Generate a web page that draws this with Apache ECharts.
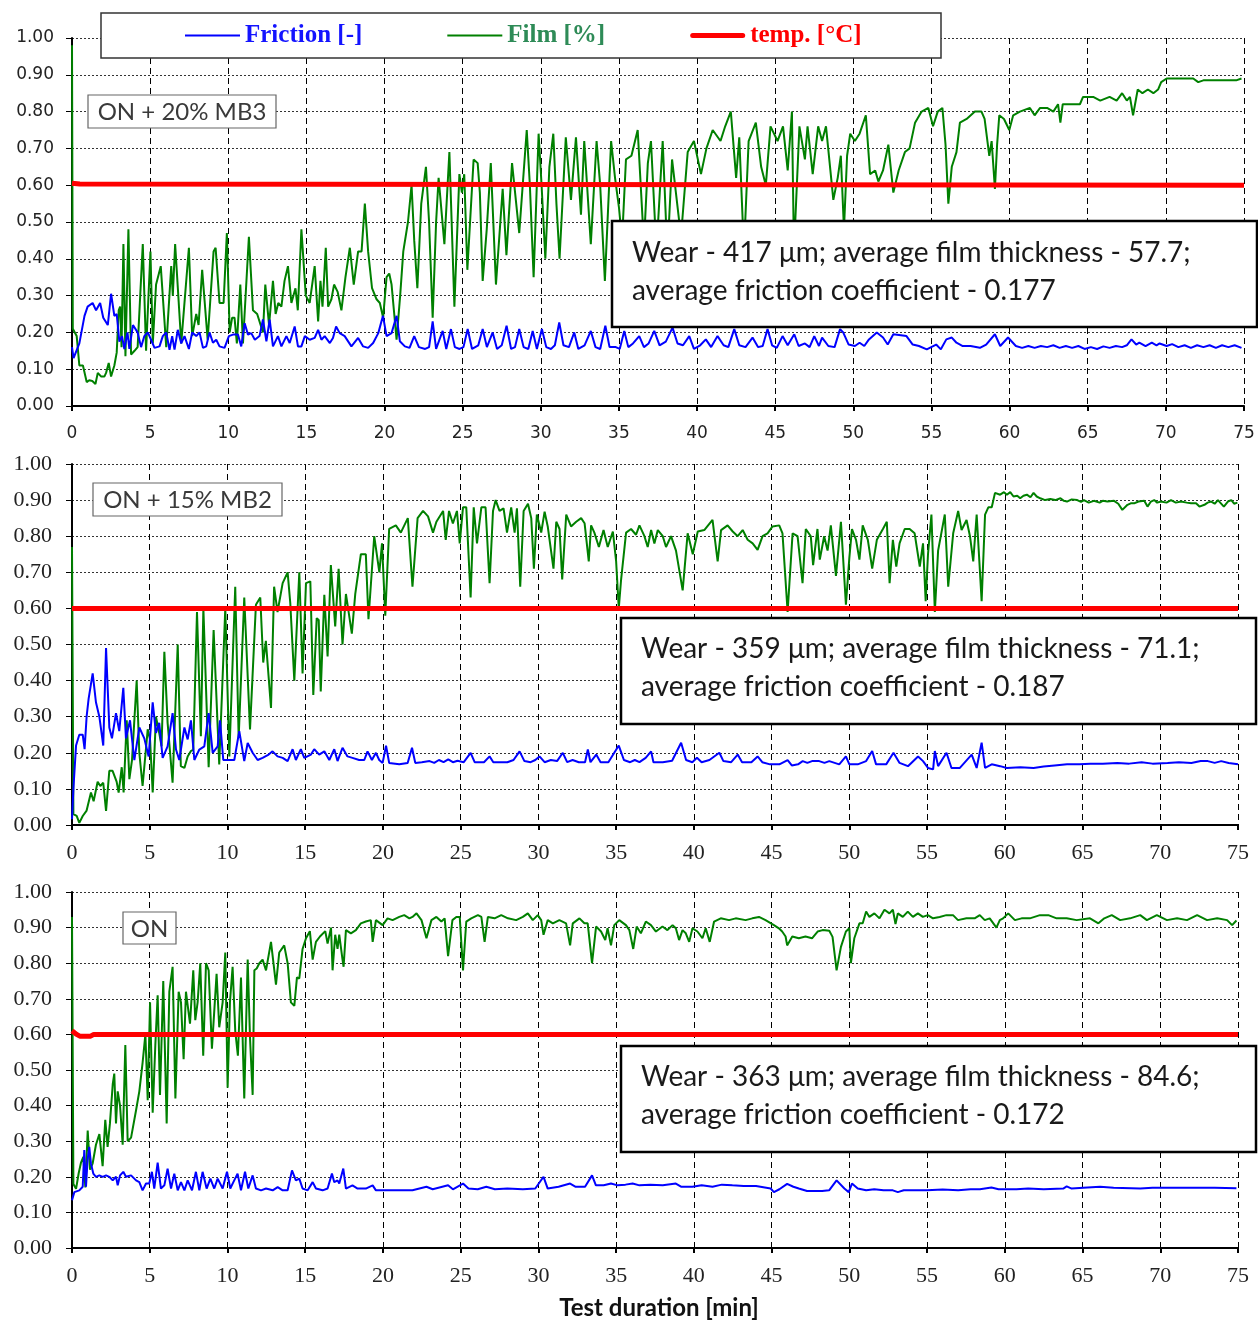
<!DOCTYPE html>
<html><head><meta charset="utf-8">
<script src="https://cdn.jsdelivr.net/npm/echarts@6/dist/echarts.min.js"></script>
<style>html,body{margin:0;padding:0;background:#fff}#c{width:1258px;height:1322px}</style>
</head><body><div id="c"></div>
<script>
const seriesNames = ['Friction [-]', 'Film [%]', 'temp. [°C]'];
const panelLabels = ['ON + 20% MB3', 'ON + 15% MB2', 'ON'];
const notes = [
  ['Wear - 417 μm; average film thickness - 57.7;', 'average friction coefficient - 0.177'],
  ['Wear - 359 μm; average film thickness - 71.1;', 'average friction coefficient - 0.187'],
  ['Wear - 363 μm; average film thickness - 84.6;', 'average friction coefficient - 0.172']
];
const xTitle = 'Test duration [min]';

// ---------- Panel 1: ON + 20% MB3 ----------
const film1 = [[0,0.98],[0.05,0.21],[0.3,0.19],[0.47,0.11],[0.7,0.11],[0.94,0.065],[1.1,0.07],[1.3,0.068],[1.5,0.06],[1.65,0.09],[1.87,0.08],[2.07,0.08],[2.18,0.09],[2.35,0.117],[2.5,0.08],[2.71,0.11],[2.86,0.145],[2.99,0.26],[3.08,0.27],[3.17,0.16],[3.29,0.44],[3.42,0.135],[3.61,0.48],[3.78,0.14],[4.0,0.15],[4.2,0.16],[4.53,0.44],[4.74,0.15],[5.02,0.42],[5.17,0.17],[5.38,0.33],[5.5,0.33],[5.68,0.38],[6.03,0.16],[6.35,0.38],[6.45,0.3],[6.6,0.44],[6.99,0.17],[7.48,0.43],[7.69,0.19],[7.95,0.25],[8.1,0.22],[8.33,0.37],[8.68,0.18],[9.06,0.42],[9.19,0.43],[9.44,0.28],[9.7,0.28],[9.91,0.47],[10.09,0.2],[10.25,0.24],[10.4,0.24],[10.55,0.17],[10.77,0.33],[10.94,0.17],[11.32,0.46],[11.58,0.26],[11.85,0.25],[12.22,0.2],[12.37,0.33],[12.61,0.22],[12.86,0.34],[13.03,0.25],[13.2,0.28],[13.4,0.27],[13.6,0.34],[13.82,0.38],[14.04,0.28],[14.3,0.32],[14.45,0.26],[14.68,0.48],[14.96,0.3],[15.21,0.28],[15.53,0.38],[15.75,0.23],[15.9,0.34],[16.03,0.27],[16.24,0.43],[16.39,0.27],[16.6,0.29],[16.77,0.33],[17.0,0.31],[17.24,0.26],[17.5,0.35],[17.78,0.43],[18.03,0.33],[18.31,0.42],[18.53,0.42],[18.74,0.55],[18.95,0.42],[19.2,0.32],[19.49,0.29],[19.7,0.28],[19.91,0.24],[20.13,0.35],[20.3,0.36],[20.45,0.33],[20.77,0.18],[21.0,0.3],[21.2,0.42],[21.5,0.5],[21.73,0.6],[21.9,0.45],[22.1,0.32],[22.35,0.55],[22.65,0.65],[22.85,0.5],[23.08,0.24],[23.3,0.5],[23.46,0.62],[23.83,0.44],[24.15,0.69],[24.47,0.27],[24.79,0.63],[24.95,0.58],[25.1,0.63],[25.3,0.37],[25.7,0.67],[25.96,0.66],[26.1,0.58],[26.28,0.34],[26.54,0.48],[26.8,0.66],[27.13,0.33],[27.56,0.59],[27.8,0.41],[28.16,0.66],[28.62,0.47],[29.1,0.75],[29.3,0.6],[29.54,0.35],[29.86,0.74],[30.05,0.6],[30.29,0.4],[30.55,0.65],[30.8,0.74],[31.0,0.55],[31.2,0.4],[31.6,0.73],[31.93,0.56],[32.25,0.73],[32.57,0.52],[32.78,0.72],[33.2,0.44],[33.57,0.72],[33.8,0.6],[34.1,0.34],[34.5,0.72],[34.75,0.62],[35.0,0.54],[35.2,0.45],[35.45,0.67],[35.8,0.68],[36.2,0.75],[36.6,0.44],[36.85,0.66],[37.05,0.72],[37.4,0.42],[37.8,0.72],[38.1,0.41],[38.4,0.67],[38.97,0.46],[39.4,0.69],[39.8,0.72],[40.25,0.63],[40.6,0.7],[41.0,0.75],[41.5,0.72],[41.8,0.76],[42.16,0.8],[42.5,0.62],[42.7,0.73],[43.0,0.42],[43.3,0.72],[43.76,0.77],[44.1,0.65],[44.4,0.6],[44.7,0.76],[45.15,0.72],[45.5,0.76],[45.8,0.64],[46.07,0.8],[46.2,0.42],[46.55,0.76],[46.9,0.67],[47.07,0.76],[47.4,0.63],[47.75,0.76],[48.0,0.72],[48.25,0.76],[48.72,0.56],[49.0,0.62],[49.2,0.68],[49.4,0.48],[49.6,0.68],[49.8,0.74],[50.1,0.72],[50.4,0.74],[50.8,0.79],[51.07,0.63],[51.4,0.64],[51.6,0.61],[51.9,0.64],[52.24,0.71],[52.56,0.58],[52.9,0.64],[53.3,0.69],[53.6,0.7],[53.95,0.77],[54.37,0.8],[54.8,0.81],[55.1,0.76],[55.4,0.8],[55.7,0.81],[55.9,0.71],[56.08,0.55],[56.3,0.65],[56.6,0.69],[56.82,0.77],[57.25,0.78],[57.78,0.8],[58.2,0.8],[58.4,0.78],[58.7,0.68],[58.85,0.72],[59.06,0.59],[59.2,0.71],[59.34,0.79],[59.64,0.78],[59.98,0.75],[60.23,0.79],[60.66,0.8],[61.3,0.81],[61.6,0.79],[61.95,0.81],[62.4,0.81],[62.8,0.8],[63.1,0.82],[63.25,0.77],[63.4,0.82],[63.8,0.82],[64.5,0.82],[64.7,0.84],[65.35,0.84],[65.8,0.83],[66.4,0.84],[66.85,0.83],[67.2,0.85],[67.5,0.83],[67.7,0.84],[67.9,0.79],[68.2,0.86],[68.5,0.85],[68.85,0.86],[69.2,0.85],[69.5,0.86],[69.7,0.88],[70.05,0.89],[70.5,0.89],[71.1,0.89],[71.75,0.89],[72.07,0.88],[72.4,0.885],[73.0,0.885],[73.4,0.885],[74.1,0.885],[74.5,0.885],[74.84,0.89]];
const friction1 = [[0,0.16],[0.1,0.13],[0.2,0.125],[0.47,0.17],[0.8,0.245],[1.0,0.27],[1.32,0.28],[1.54,0.26],[1.8,0.28],[2.0,0.24],[2.29,0.22],[2.5,0.305],[2.71,0.245],[2.86,0.25],[3.03,0.175],[3.2,0.19],[3.35,0.155],[3.55,0.2],[3.67,0.155],[3.9,0.22],[4.2,0.2],[4.42,0.16],[4.63,0.19],[4.85,0.2],[5.06,0.18],[5.28,0.158],[5.6,0.162],[5.81,0.19],[6.03,0.2],[6.24,0.153],[6.41,0.19],[6.56,0.153],[6.77,0.207],[6.99,0.17],[7.2,0.19],[7.48,0.155],[7.69,0.2],[7.95,0.19],[8.16,0.2],[8.38,0.158],[8.59,0.162],[8.8,0.2],[9.02,0.172],[9.23,0.18],[9.44,0.162],[9.76,0.158],[10.04,0.19],[10.3,0.194],[10.62,0.194],[10.83,0.162],[11.05,0.225],[11.26,0.194],[11.47,0.198],[11.7,0.18],[12.0,0.19],[12.22,0.235],[12.44,0.176],[12.65,0.235],[12.86,0.162],[13.18,0.19],[13.4,0.162],[13.72,0.19],[13.93,0.171],[14.25,0.216],[14.46,0.162],[14.68,0.162],[14.9,0.19],[15.21,0.18],[15.53,0.185],[15.75,0.207],[15.96,0.18],[16.17,0.19],[16.5,0.171],[16.7,0.185],[16.9,0.216],[17.13,0.198],[17.45,0.19],[17.88,0.162],[18.31,0.185],[18.63,0.162],[18.95,0.158],[19.27,0.171],[19.6,0.198],[19.9,0.245],[20.13,0.19],[20.45,0.198],[20.77,0.245],[20.98,0.176],[21.3,0.162],[21.6,0.158],[21.9,0.19],[22.2,0.16],[22.6,0.155],[22.85,0.16],[23.08,0.23],[23.3,0.155],[23.72,0.204],[23.95,0.155],[24.25,0.209],[24.5,0.16],[24.8,0.155],[25.05,0.16],[25.32,0.209],[25.6,0.155],[26.0,0.165],[26.28,0.209],[26.55,0.16],[26.92,0.2],[27.2,0.155],[27.5,0.165],[27.81,0.218],[28.1,0.155],[28.35,0.16],[28.62,0.209],[28.9,0.16],[29.2,0.155],[29.48,0.204],[29.75,0.155],[30.07,0.209],[30.35,0.16],[30.65,0.155],[30.9,0.165],[31.18,0.227],[31.45,0.165],[31.8,0.16],[32.14,0.2],[32.4,0.155],[32.8,0.165],[33.2,0.204],[33.5,0.16],[33.8,0.155],[34.13,0.218],[34.4,0.16],[34.8,0.16],[35.05,0.155],[35.34,0.204],[35.6,0.16],[35.9,0.17],[36.3,0.19],[36.6,0.16],[36.9,0.17],[37.26,0.204],[37.6,0.165],[38.0,0.175],[38.43,0.213],[38.75,0.17],[39.1,0.165],[39.5,0.19],[39.8,0.155],[40.2,0.165],[40.56,0.181],[40.9,0.16],[41.31,0.19],[41.7,0.165],[42.0,0.16],[42.38,0.209],[42.7,0.165],[43.1,0.16],[43.55,0.186],[43.9,0.16],[44.2,0.163],[44.51,0.209],[44.8,0.165],[45.1,0.158],[45.47,0.19],[45.8,0.165],[46.22,0.195],[46.5,0.163],[46.9,0.17],[47.2,0.16],[47.5,0.19],[47.8,0.163],[48.0,0.186],[48.4,0.163],[48.8,0.16],[49.15,0.209],[49.35,0.2],[49.7,0.167],[50.1,0.163],[50.4,0.172],[50.7,0.163],[51.0,0.181],[51.5,0.2],[51.9,0.186],[52.2,0.167],[52.56,0.195],[53.4,0.19],[53.8,0.167],[54.2,0.163],[54.7,0.154],[55.3,0.167],[55.6,0.154],[55.95,0.181],[56.3,0.186],[56.6,0.172],[57.0,0.163],[57.5,0.163],[58.1,0.158],[58.5,0.167],[59.06,0.195],[59.4,0.163],[59.9,0.186],[60.4,0.163],[60.8,0.158],[61.2,0.163],[61.6,0.158],[62.0,0.163],[62.4,0.16],[62.8,0.165],[63.2,0.158],[63.6,0.163],[64.0,0.158],[64.4,0.163],[64.8,0.155],[65.2,0.16],[65.6,0.155],[66.0,0.162],[66.4,0.158],[66.8,0.163],[67.2,0.16],[67.5,0.165],[67.8,0.181],[68.1,0.167],[68.3,0.172],[68.7,0.163],[69.1,0.172],[69.4,0.165],[69.6,0.17],[70.05,0.163],[70.4,0.168],[70.8,0.16],[71.2,0.165],[71.6,0.158],[72.0,0.165],[72.4,0.16],[72.8,0.165],[73.2,0.158],[73.6,0.165],[74.0,0.16],[74.4,0.165],[74.84,0.158]];
const temp1 = [[0,0.605],[0.5,0.603],[0.6,0.6],[75,0.6]];

// ---------- Panel 2: ON + 15% MB2 ----------
const film2 = [[0,0.77],[0.09,0.03],[0.3,0.025],[0.47,0.006],[0.69,0.025],[0.94,0.04],[1.22,0.09],[1.39,0.066],[1.65,0.12],[1.82,0.108],[2.01,0.117],[2.19,0.039],[2.4,0.15],[2.61,0.15],[2.87,0.12],[3.0,0.09],[3.2,0.16],[3.32,0.09],[3.52,0.29],[3.69,0.127],[3.86,0.18],[4.16,0.4],[4.33,0.2],[4.54,0.108],[4.87,0.265],[5.02,0.237],[5.19,0.09],[5.4,0.3],[5.61,0.255],[5.76,0.218],[5.94,0.48],[6.15,0.283],[6.47,0.117],[6.8,0.5],[7.0,0.163],[7.23,0.158],[7.44,0.19],[7.65,0.205],[7.8,0.209],[8.04,0.59],[8.29,0.246],[8.45,0.6],[8.79,0.16],[9.11,0.54],[9.47,0.168],[9.86,0.6],[10.12,0.19],[10.5,0.66],[10.72,0.241],[11.08,0.63],[11.45,0.265],[11.83,0.61],[12.11,0.63],[12.3,0.45],[12.47,0.51],[12.8,0.324],[13.0,0.66],[13.22,0.59],[13.55,0.67],[13.87,0.7],[14.04,0.615],[14.3,0.4],[14.62,0.7],[14.83,0.42],[15.05,0.67],[15.33,0.675],[15.52,0.36],[15.74,0.573],[15.87,0.568],[16.0,0.37],[16.23,0.638],[16.44,0.467],[16.65,0.72],[16.93,0.55],[17.15,0.71],[17.4,0.5],[17.62,0.64],[18.0,0.53],[18.22,0.64],[18.58,0.75],[18.9,0.75],[19.07,0.57],[19.44,0.8],[19.77,0.7],[19.94,0.78],[20.15,0.58],[20.4,0.82],[20.83,0.83],[21.15,0.81],[21.6,0.85],[21.9,0.66],[22.23,0.85],[22.58,0.87],[22.9,0.855],[23.22,0.81],[23.44,0.84],[23.87,0.87],[24.04,0.79],[24.25,0.87],[24.5,0.835],[24.76,0.87],[24.94,0.78],[25.15,0.88],[25.36,0.88],[25.64,0.63],[25.84,0.88],[26.05,0.78],[26.33,0.88],[26.6,0.88],[26.86,0.67],[27.08,0.87],[27.25,0.9],[27.5,0.87],[27.76,0.877],[27.98,0.81],[28.25,0.88],[28.47,0.81],[28.62,0.877],[28.83,0.66],[29.05,0.87],[29.33,0.89],[29.54,0.85],[29.71,0.71],[29.9,0.86],[30.18,0.81],[30.4,0.868],[30.6,0.827],[30.97,0.71],[31.15,0.84],[31.36,0.82],[31.53,0.68],[31.79,0.86],[32.1,0.827],[32.43,0.84],[32.75,0.85],[32.97,0.836],[33.24,0.73],[33.39,0.83],[33.6,0.81],[33.89,0.77],[34.19,0.817],[34.46,0.77],[34.79,0.813],[35.0,0.73],[35.17,0.6],[35.32,0.68],[35.64,0.81],[35.96,0.82],[36.28,0.804],[36.5,0.83],[36.82,0.8],[37.03,0.77],[37.25,0.817],[37.46,0.78],[37.68,0.817],[38.0,0.8],[38.21,0.77],[38.53,0.8],[38.85,0.76],[39.28,0.65],[39.6,0.808],[39.93,0.75],[40.25,0.813],[40.67,0.817],[41.2,0.845],[41.53,0.73],[41.75,0.817],[42.17,0.83],[42.5,0.813],[42.82,0.8],[43.14,0.817],[43.46,0.79],[43.78,0.78],[44.1,0.762],[44.42,0.8],[44.74,0.808],[45.06,0.827],[45.49,0.83],[45.7,0.808],[46.03,0.59],[46.35,0.808],[46.67,0.8],[46.99,0.67],[47.2,0.82],[47.52,0.8],[47.67,0.72],[47.95,0.82],[48.1,0.735],[48.38,0.8],[48.6,0.76],[48.81,0.83],[49.14,0.69],[49.46,0.84],[49.78,0.61],[50.0,0.74],[50.17,0.82],[50.43,0.79],[50.65,0.735],[50.86,0.83],[51.19,0.79],[51.47,0.71],[51.77,0.79],[52.16,0.82],[52.41,0.84],[52.59,0.67],[52.8,0.79],[53.02,0.716],[53.23,0.78],[53.56,0.82],[53.88,0.82],[54.2,0.808],[54.53,0.716],[54.74,0.78],[54.91,0.62],[55.06,0.75],[55.28,0.86],[55.5,0.59],[55.71,0.76],[56.14,0.86],[56.36,0.66],[56.68,0.808],[57.0,0.87],[57.22,0.817],[57.54,0.845],[57.76,0.8],[57.97,0.73],[58.19,0.86],[58.51,0.62],[58.73,0.86],[58.94,0.88],[59.16,0.88],[59.37,0.92],[59.7,0.915],[59.95,0.922],[60.13,0.915],[60.35,0.922],[60.56,0.91],[60.8,0.912],[60.99,0.905],[61.2,0.912],[61.42,0.915],[61.65,0.908],[61.85,0.92],[62.05,0.91],[62.28,0.905],[62.6,0.9],[62.93,0.903],[63.25,0.9],[63.58,0.905],[63.8,0.898],[64.0,0.896],[64.3,0.902],[64.66,0.9],[64.9,0.895],[65.09,0.9],[65.4,0.893],[65.73,0.898],[66.1,0.893],[66.3,0.898],[66.6,0.896],[67.03,0.898],[67.3,0.89],[67.56,0.873],[67.89,0.887],[68.1,0.891],[68.32,0.891],[68.6,0.896],[68.97,0.898],[69.18,0.882],[69.4,0.896],[69.61,0.9],[69.8,0.893],[70.04,0.896],[70.4,0.893],[70.69,0.9],[71.0,0.893],[71.34,0.896],[71.7,0.893],[71.98,0.891],[72.3,0.891],[72.52,0.882],[72.84,0.887],[73.05,0.893],[73.28,0.896],[73.5,0.89],[73.71,0.9],[74.09,0.882],[74.35,0.896],[74.57,0.9],[74.75,0.89],[74.96,0.893]];
const friction2 = [[0,0.016],[0.09,0.1],[0.26,0.22],[0.47,0.25],[0.69,0.25],[0.81,0.21],[0.94,0.3],[1.07,0.35],[1.33,0.42],[1.54,0.34],[1.76,0.3],[2.01,0.22],[2.19,0.49],[2.4,0.27],[2.57,0.24],[2.83,0.31],[3.04,0.26],[3.3,0.38],[3.47,0.24],[3.73,0.29],[4.01,0.18],[4.33,0.27],[4.65,0.24],[4.93,0.19],[5.19,0.34],[5.4,0.255],[5.61,0.283],[5.83,0.186],[6.15,0.218],[6.47,0.31],[6.69,0.209],[6.9,0.18],[7.23,0.27],[7.44,0.237],[7.65,0.29],[7.87,0.18],[8.19,0.209],[8.51,0.218],[8.79,0.31],[9.05,0.2],[9.37,0.218],[9.52,0.29],[9.73,0.18],[10.12,0.18],[10.44,0.18],[10.76,0.26],[11.08,0.177],[11.3,0.227],[11.62,0.2],[11.94,0.18],[12.26,0.186],[12.65,0.195],[12.9,0.204],[13.22,0.19],[13.55,0.186],[13.87,0.177],[14.19,0.21],[14.4,0.18],[14.72,0.21],[14.94,0.186],[15.37,0.195],[15.58,0.21],[15.9,0.195],[16.23,0.204],[16.55,0.18],[16.87,0.21],[17.08,0.177],[17.4,0.214],[17.72,0.19],[18.04,0.186],[18.47,0.18],[18.8,0.18],[19.01,0.204],[19.29,0.18],[19.55,0.2],[19.76,0.18],[19.98,0.172],[20.2,0.22],[20.4,0.172],[21.05,0.168],[21.59,0.172],[21.87,0.214],[22.08,0.172],[22.5,0.174],[23.0,0.177],[23.3,0.172],[23.6,0.18],[23.9,0.174],[24.2,0.182],[24.5,0.174],[24.8,0.178],[25.2,0.174],[25.64,0.2],[25.9,0.174],[26.5,0.174],[26.86,0.19],[27.1,0.174],[28.0,0.174],[28.4,0.18],[28.79,0.204],[29.1,0.177],[29.5,0.174],[29.8,0.18],[30.07,0.19],[30.4,0.174],[30.8,0.18],[31.2,0.177],[31.57,0.2],[31.85,0.174],[32.2,0.18],[32.6,0.174],[33.0,0.174],[33.18,0.209],[33.35,0.174],[33.72,0.195],[34.0,0.174],[34.5,0.174],[35.17,0.22],[35.5,0.18],[35.9,0.174],[36.2,0.18],[36.5,0.174],[36.9,0.186],[37.25,0.204],[37.4,0.174],[38.0,0.174],[38.6,0.178],[39.18,0.228],[39.5,0.18],[39.9,0.174],[40.2,0.186],[40.5,0.174],[41.0,0.18],[41.64,0.2],[41.9,0.177],[42.4,0.174],[42.82,0.195],[43.1,0.174],[43.7,0.174],[44.1,0.19],[44.4,0.174],[44.9,0.168],[45.5,0.168],[46.03,0.18],[46.3,0.165],[46.7,0.168],[47.0,0.177],[47.3,0.172],[47.6,0.177],[48.06,0.177],[48.4,0.172],[48.71,0.177],[49.35,0.168],[49.78,0.19],[50.0,0.168],[50.54,0.168],[51.08,0.177],[51.47,0.205],[51.72,0.168],[52.37,0.168],[52.84,0.2],[53.23,0.172],[53.77,0.163],[54.42,0.19],[54.74,0.177],[55.06,0.158],[55.39,0.154],[55.5,0.205],[55.71,0.163],[56.25,0.2],[56.57,0.158],[57.11,0.158],[57.87,0.195],[58.19,0.158],[58.51,0.228],[58.73,0.158],[59.16,0.168],[59.7,0.163],[60.13,0.158],[61.0,0.16],[61.85,0.158],[62.5,0.162],[63.2,0.165],[64.0,0.168],[64.8,0.168],[65.5,0.17],[66.3,0.17],[67.24,0.172],[68.0,0.17],[68.8,0.174],[69.5,0.17],[70.47,0.172],[71.2,0.174],[72.0,0.172],[72.6,0.177],[73.06,0.177],[73.5,0.172],[73.92,0.177],[74.4,0.172],[75,0.168]];
const temp2 = [[0,0.6],[75,0.6]];

// ---------- Panel 3: ON ----------
const film3 = [[0,0.93],[0.09,0.18],[0.26,0.166],[0.43,0.21],[0.58,0.24],[0.73,0.256],[0.86,0.17],[1.01,0.33],[1.16,0.22],[1.33,0.238],[1.54,0.29],[1.76,0.32],[1.97,0.23],[2.14,0.36],[2.29,0.284],[2.44,0.35],[2.62,0.46],[2.72,0.49],[2.83,0.35],[2.94,0.44],[3.09,0.4],[3.26,0.29],[3.43,0.57],[3.58,0.3],[3.8,0.31],[4.12,0.387],[4.33,0.44],[4.54,0.52],[4.72,0.6],[4.87,0.415],[5.02,0.69],[5.19,0.38],[5.36,0.57],[5.51,0.71],[5.66,0.43],[5.87,0.75],[6.09,0.35],[6.26,0.72],[6.47,0.79],[6.65,0.42],[6.86,0.72],[7.01,0.69],[7.18,0.53],[7.33,0.72],[7.59,0.63],[7.8,0.78],[7.93,0.64],[8.08,0.69],[8.25,0.8],[8.44,0.54],[8.62,0.8],[8.79,0.78],[9.0,0.56],[9.3,0.77],[9.47,0.62],[9.69,0.69],[9.86,0.83],[10.01,0.45],[10.16,0.69],[10.33,0.79],[10.5,0.61],[10.67,0.54],[10.87,0.76],[11.08,0.42],[11.3,0.81],[11.45,0.59],[11.62,0.43],[11.73,0.78],[11.88,0.785],[12.05,0.8],[12.26,0.81],[12.48,0.78],[12.8,0.86],[13.12,0.74],[13.33,0.83],[13.65,0.85],[13.87,0.8],[14.08,0.69],[14.3,0.68],[14.47,0.76],[14.62,0.757],[14.83,0.84],[15.05,0.87],[15.3,0.89],[15.48,0.81],[15.69,0.86],[15.95,0.875],[16.29,0.89],[16.44,0.855],[16.66,0.9],[16.76,0.78],[16.93,0.88],[17.08,0.84],[17.19,0.88],[17.4,0.81],[17.47,0.79],[17.62,0.893],[17.94,0.884],[18.26,0.893],[18.58,0.912],[18.9,0.917],[19.22,0.921],[19.34,0.86],[19.55,0.921],[19.98,0.907],[20.3,0.926],[20.62,0.921],[21.05,0.93],[21.37,0.935],[21.7,0.926],[21.9,0.93],[22.16,0.94],[22.48,0.921],[22.8,0.87],[23.12,0.921],[23.44,0.93],[23.76,0.917],[23.97,0.926],[24.19,0.82],[24.47,0.921],[24.72,0.93],[24.94,0.93],[25.15,0.78],[25.36,0.917],[25.68,0.926],[26.11,0.935],[26.33,0.93],[26.54,0.86],[26.75,0.93],[27.18,0.926],[27.61,0.935],[28.04,0.926],[28.57,0.921],[29.0,0.93],[29.32,0.94],[29.64,0.921],[29.96,0.935],[30.18,0.921],[30.33,0.88],[30.6,0.921],[30.93,0.912],[31.35,0.921],[31.78,0.912],[32.04,0.85],[32.21,0.912],[32.64,0.926],[32.96,0.912],[33.17,0.912],[33.45,0.8],[33.71,0.903],[34.03,0.889],[34.3,0.865],[34.45,0.898],[34.67,0.85],[34.88,0.907],[35.2,0.921],[35.63,0.907],[35.85,0.893],[36.1,0.84],[36.32,0.903],[36.59,0.884],[36.91,0.917],[37.24,0.907],[37.56,0.889],[37.98,0.903],[38.3,0.893],[38.63,0.907],[38.84,0.898],[39.05,0.865],[39.27,0.893],[39.48,0.884],[39.7,0.86],[39.91,0.898],[40.23,0.889],[40.55,0.87],[40.76,0.898],[41.02,0.86],[41.3,0.917],[41.73,0.926],[42.26,0.921],[42.69,0.926],[43.33,0.921],[43.76,0.926],[44.19,0.93],[44.61,0.921],[45.15,0.907],[45.47,0.898],[45.68,0.889],[45.9,0.875],[46.0,0.85],[46.33,0.875],[46.75,0.87],[47.18,0.875],[47.6,0.87],[47.96,0.889],[48.28,0.893],[48.71,0.891],[48.92,0.874],[49.18,0.78],[49.46,0.846],[49.78,0.889],[50.0,0.898],[50.1,0.8],[50.32,0.87],[50.65,0.912],[50.86,0.912],[51.08,0.945],[51.29,0.93],[51.61,0.94],[51.94,0.926],[52.26,0.95],[52.58,0.94],[52.8,0.95],[52.97,0.91],[53.12,0.94],[53.44,0.93],[53.76,0.945],[54.09,0.93],[54.41,0.94],[54.73,0.93],[55.05,0.935],[55.38,0.926],[55.81,0.93],[56.24,0.935],[56.67,0.935],[56.99,0.921],[57.53,0.926],[58.06,0.926],[58.39,0.935],[58.71,0.921],[59.03,0.926],[59.46,0.9],[59.68,0.921],[59.89,0.926],[60.22,0.94],[60.65,0.921],[61.08,0.926],[61.61,0.926],[62.26,0.935],[62.8,0.935],[63.33,0.926],[63.98,0.926],[64.62,0.921],[65.48,0.926],[66.02,0.912],[66.4,0.926],[66.88,0.935],[67.42,0.921],[68.06,0.926],[68.71,0.935],[69.14,0.921],[69.78,0.935],[70.43,0.921],[71.08,0.926],[71.72,0.921],[72.37,0.935],[73.01,0.921],[73.66,0.926],[74.3,0.921],[74.62,0.907],[74.9,0.92]];
const friction3 = [[0,0.134],[0.15,0.157],[0.47,0.162],[0.69,0.172],[0.79,0.275],[0.9,0.172],[1.0,0.246],[1.11,0.284],[1.22,0.237],[1.37,0.209],[1.54,0.2],[1.76,0.204],[1.97,0.2],[2.19,0.204],[2.4,0.2],[2.62,0.19],[2.83,0.2],[2.94,0.176],[3.09,0.204],[3.3,0.214],[3.47,0.2],[3.8,0.204],[4.12,0.19],[4.33,0.185],[4.54,0.162],[4.76,0.181],[4.97,0.181],[5.14,0.214],[5.29,0.167],[5.51,0.24],[5.72,0.167],[5.94,0.176],[6.15,0.223],[6.37,0.167],[6.58,0.209],[6.8,0.162],[7.01,0.185],[7.23,0.162],[7.44,0.19],[7.72,0.162],[7.97,0.214],[8.19,0.162],[8.4,0.214],[8.66,0.167],[8.9,0.195],[9.15,0.167],[9.37,0.195],[9.69,0.167],[9.97,0.214],[10.18,0.167],[10.38,0.185],[10.65,0.209],[10.87,0.162],[11.13,0.214],[11.34,0.167],[11.62,0.204],[11.83,0.167],[12.16,0.162],[12.48,0.167],[12.91,0.162],[13.23,0.171],[13.55,0.162],[13.87,0.162],[14.15,0.218],[14.4,0.19],[14.62,0.195],[14.83,0.167],[15.16,0.162],[15.48,0.185],[15.69,0.167],[16.12,0.162],[16.44,0.167],[16.72,0.209],[16.87,0.185],[17.08,0.19],[17.19,0.181],[17.45,0.223],[17.62,0.167],[18.04,0.176],[18.37,0.167],[18.9,0.167],[19.34,0.176],[19.55,0.162],[20.2,0.162],[21.0,0.162],[21.9,0.162],[22.8,0.172],[23.2,0.165],[24.19,0.176],[24.5,0.165],[25.15,0.181],[25.5,0.167],[26.1,0.165],[26.65,0.172],[27.2,0.165],[28.0,0.167],[29.0,0.165],[29.8,0.167],[30.33,0.2],[30.6,0.167],[31.3,0.172],[32.04,0.181],[32.4,0.172],[33.0,0.172],[33.45,0.204],[33.7,0.176],[34.2,0.176],[34.67,0.181],[35.1,0.176],[35.6,0.178],[36.06,0.181],[36.5,0.176],[37.2,0.178],[38.0,0.176],[38.84,0.181],[39.2,0.172],[39.91,0.172],[40.5,0.176],[41.2,0.172],[41.8,0.178],[42.48,0.176],[43.2,0.174],[44.0,0.174],[44.94,0.167],[45.15,0.157],[45.5,0.165],[46.0,0.18],[46.4,0.172],[46.75,0.167],[47.28,0.16],[48.25,0.16],[48.7,0.162],[49.18,0.19],[49.68,0.167],[49.96,0.157],[50.17,0.181],[50.54,0.167],[51.08,0.162],[51.6,0.165],[52.2,0.162],[52.8,0.162],[53.12,0.157],[53.5,0.162],[54.2,0.162],[55.0,0.162],[56.0,0.164],[57.0,0.162],[57.8,0.165],[58.4,0.165],[59.14,0.17],[59.6,0.165],[60.75,0.165],[61.5,0.167],[62.5,0.165],[63.76,0.167],[63.98,0.173],[64.3,0.167],[65.05,0.169],[66.13,0.172],[67.0,0.169],[68.71,0.167],[69.5,0.169],[70.43,0.169],[71.5,0.169],[72.58,0.169],[73.5,0.169],[74.9,0.168]];
const temp3 = [[0,0.61],[0.3,0.6],[0.5,0.595],[1.2,0.595],[1.4,0.6],[75,0.6]];

const panels = [
  { film: film1, friction: friction1, temp: temp1 },
  { film: film2, friction: friction2, temp: temp2 },
  { film: film3, friction: friction3, temp: temp3 }
];

// ---------- Layout / styling ----------
const grids = [
  { left: 72, top: 38, width: 1172, height: 368, outerBoundsMode: 'none', containLabel: false },
  { left: 72, top: 464, width: 1166, height: 361, outerBoundsMode: 'none', containLabel: false },
  { left: 72, top: 892, width: 1166, height: 356, outerBoundsMode: 'none', containLabel: false }
];
const axisFonts = [
  { family: 'DejaVu Sans', size: 17, xMargin: 19, yMargin: 18 },
  { family: 'Liberation Serif', size: 22, xMargin: 17, yMargin: 20 },
  { family: 'Liberation Serif', size: 22, xMargin: 17, yMargin: 20 }
];
const colors = { friction: '#0000ff', film: '#008000', temp: '#ff0000' };

const xAxes = grids.map((g, i) => ({
  gridIndex: i, type: 'value', min: 0, max: 75, interval: 5,
  axisLine: { lineStyle: { color: '#000', width: 2 } },
  axisTick: { show: true, length: 5, lineStyle: { color: '#000', width: 2 } },
  axisLabel: { fontFamily: axisFonts[i].family, fontSize: axisFonts[i].size, color: '#222', margin: axisFonts[i].xMargin },
  splitLine: { show: true, lineStyle: { type: [6, 4], color: '#000', width: 1 } }
}));
const yAxes = grids.map((g, i) => ({
  gridIndex: i, type: 'value', min: 0, max: 1, interval: 0.1,
  axisLine: { show: true, lineStyle: { color: '#000', width: 2 } },
  axisTick: { show: true, length: 6, lineStyle: { color: '#000', width: 1 } },
  axisLabel: { fontFamily: axisFonts[i].family, fontSize: axisFonts[i].size, color: '#222', margin: axisFonts[i].yMargin,
               formatter: v => v.toFixed(2) },
  splitLine: { show: true, lineStyle: { type: [2, 2], color: '#333', width: 1 } }
}));

const series = [];
panels.forEach((p, i) => {
  series.push({ name: seriesNames[0], type: 'line', xAxisIndex: i, yAxisIndex: i, data: p.friction,
    showSymbol: false, symbol: 'none', lineStyle: { color: colors.friction, width: 2 }, itemStyle: { color: colors.friction }, z: 4 });
  series.push({ name: seriesNames[1], type: 'line', xAxisIndex: i, yAxisIndex: i, data: p.film,
    showSymbol: false, symbol: 'none', lineStyle: { color: colors.film, width: 2 }, itemStyle: { color: colors.film }, z: 3 });
  series.push({ name: seriesNames[2], type: 'line', xAxisIndex: i, yAxisIndex: i, data: p.temp,
    showSymbol: false, symbol: 'none', lineStyle: { color: colors.temp, width: 5 }, itemStyle: { color: colors.temp }, z: 5 });
});

const labelBoxes = [
  { x: 88, y: 95, w: 188, h: 33 },
  { x: 93, y: 483, w: 189, h: 33 },
  { x: 123, y: 912, w: 53, h: 32 }
];
const noteBoxes = [
  { x: 612, y: 221, w: 645, h: 106, tx: 632, l1: 253, l2: 291 },
  { x: 621, y: 618, w: 635, h: 106, tx: 641, l1: 649, l2: 687 },
  { x: 621, y: 1046, w: 635, h: 106, tx: 641, l1: 1077, l2: 1115 }
];

const graphics = [
  { type: 'rect', shape: { x: 101, y: 13, width: 840, height: 45 },
    style: { fill: '#fff', stroke: '#333', lineWidth: 1.5 }, z: 50 },
  { type: 'text', x: 659, y: 1308, z: 61,
    style: { text: xTitle, font: 'bold 24px Lato', fill: '#111', align: 'center', verticalAlign: 'middle' } }
];
labelBoxes.forEach((b, i) => {
  graphics.push({ type: 'rect', shape: { x: b.x, y: b.y, width: b.w, height: b.h },
    style: { fill: '#fff', stroke: '#666', lineWidth: 1.2 }, z: 60 });
  graphics.push({ type: 'text', x: b.x + b.w / 2, y: b.y + b.h / 2 + 1, z: 61,
    style: { text: panelLabels[i], font: '24px Lato', fill: '#3a3a3a', align: 'center', verticalAlign: 'middle' } });
});
noteBoxes.forEach((b, i) => {
  graphics.push({ type: 'rect', shape: { x: b.x, y: b.y, width: b.w, height: b.h },
    style: { fill: '#fff', stroke: '#000', lineWidth: 2.5 }, z: 60 });
  graphics.push({ type: 'text', x: b.tx, y: b.l1, z: 61,
    style: { text: notes[i][0], font: '28px Lato', fill: '#1a1a1a', align: 'left', verticalAlign: 'middle' } });
  graphics.push({ type: 'text', x: b.tx, y: b.l2, z: 61,
    style: { text: notes[i][1], font: '28px Lato', fill: '#1a1a1a', align: 'left', verticalAlign: 'middle' } });
});

// legend icons: thin horizontal bars (line samples)
const thinBar = 'path://M0,0h55v2h-55z';
const thickBar = 'path://M2.5,0h50a2.5,2.5 0 0 1 0,5h-50a2.5,2.5 0 0 1 0,-5z';

const chart = echarts.init(document.getElementById('c'), null, { renderer: 'canvas' });
chart.setOption({
  animation: false,
  backgroundColor: '#fff',
  grid: grids,
  xAxis: xAxes,
  yAxis: yAxes,
  legend: {
    left: 185, top: 23, padding: 0, itemGap: 85, itemWidth: 55, itemHeight: 12, z: 100,
    selectedMode: false,
    textStyle: { fontFamily: 'Liberation Serif', fontWeight: 'bold', fontSize: 25 },
    data: [
      { name: seriesNames[0], icon: thinBar, itemStyle: { color: colors.friction }, textStyle: { color: '#1414ff' } },
      { name: seriesNames[1], icon: thinBar, itemStyle: { color: colors.film }, textStyle: { color: '#2e8b57' } },
      { name: seriesNames[2], icon: thickBar, itemStyle: { color: colors.temp }, textStyle: { color: '#ff0000' } }
    ]
  },
  graphic: graphics,
  series: series
});
</script>
</body></html>
